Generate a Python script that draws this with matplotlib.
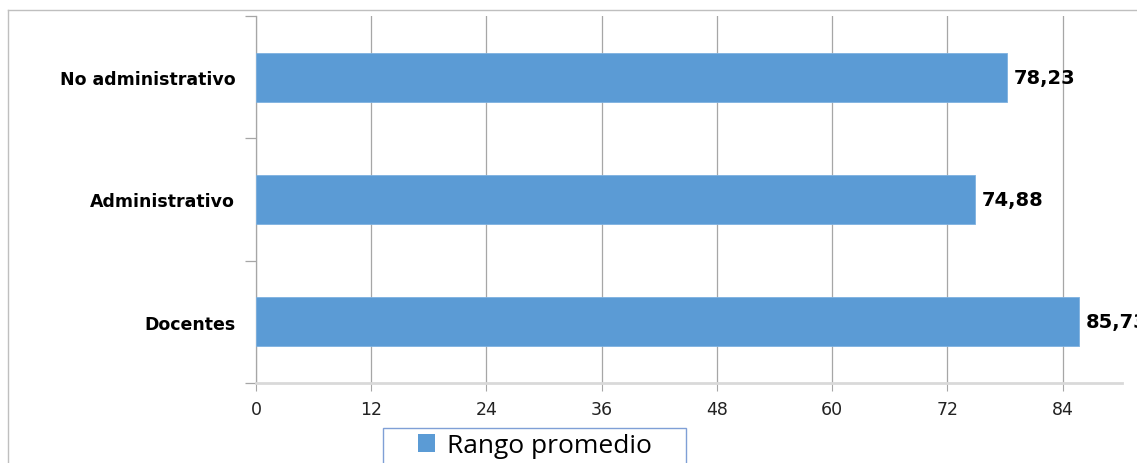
import matplotlib.pyplot as plt
from matplotlib.lines import Line2D
from matplotlib.patches import Rectangle

plt.rcParams["font.family"] = ["DejaVu Sans"]

# ----- data -----
categories = ["Docentes", "Administrativo", "No administrativo"]
rango_promedio = [85.73, 74.88, 78.23]
x_ticks = [0, 12, 24, 36, 48, 60, 72, 84]
series_name = "Rango promedio"

BAR_COLOR = "#5B9BD5"
GRID_COLOR = "#A6A6A6"
W, H = 1137, 464

fig = plt.figure(figsize=(W / 100, H / 100), dpi=100)
ax = fig.add_axes([0.2252, 0.1724, 0.7617, 0.791])

ypos = list(range(len(categories)))
bars = ax.barh(ypos, rango_promedio, height=0.4, color=BAR_COLOR,
               edgecolor="#7EB1E0", linewidth=0.6, label=series_name, zorder=3)

ax.set_xlim(0, 90.2)
ax.set_ylim(-0.5, len(categories) - 0.5)
ax.set_xticks(x_ticks)
ax.set_xticklabels([str(t) for t in x_ticks], fontsize=12.5, color="#222222")
ax.xaxis.grid(True, color=GRID_COLOR, linewidth=0.9, zorder=0)
ax.tick_params(axis="x", length=6, color=GRID_COLOR, pad=6, direction="out")

# category names sit between the boundary ticks
ax.set_yticks(ypos)
ax.set_yticklabels(categories, fontsize=12.5, fontweight="bold")
ax.tick_params(axis="y", which="major", length=0, pad=15)
ax.set_yticks([y - 0.5 for y in ypos] + [len(categories) - 0.5], minor=True)
ax.tick_params(axis="y", which="minor", length=8, color=GRID_COLOR, width=0.9)

for side in ("top", "right"):
    ax.spines[side].set_visible(False)
ax.spines["left"].set_color(GRID_COLOR)
ax.spines["left"].set_linewidth(0.9)
ax.spines["bottom"].set_color("#D9D9D9")
ax.spines["bottom"].set_linewidth(2)

for b, v in zip(bars, rango_promedio):
    ax.annotate(f"{v:.2f}".replace(".", ","),
                xy=(v, b.get_y() + b.get_height() / 2),
                xytext=(5, 0), textcoords="offset points",
                ha="left", va="center", fontsize=14, fontweight="bold",
                annotation_clip=False)

# chart area border (top and left edges visible)
fig.add_artist(Line2D([8 / W, 8 / W], [0, 1 - 11 / H],
                      transform=fig.transFigure, color="#BFBFBF", lw=1))
fig.add_artist(Line2D([8 / W, 1], [1 - 11 / H, 1 - 11 / H],
                      transform=fig.transFigure, color="#BFBFBF", lw=1))

# legend box, runs past the bottom edge
fig.add_artist(Rectangle((383 / W, -0.05), 303 / W, 0.05 + 35 / H,
                         transform=fig.transFigure, facecolor="white",
                         edgecolor="#7F9FD6", lw=1))
leg = fig.legend(handles=[bars], labels=[series_name],
                 loc="center left", bbox_to_anchor=(418 / W, 1 - 447 / H),
                 prop={"family": "Open Sans", "size": 19},
                 handlelength=0.65, handleheight=0.65, handletextpad=0.45,
                 borderpad=0.0, borderaxespad=0, frameon=False)
leg.legend_handles[0].set_edgecolor("none")

fig.savefig("out.png", dpi=100)
